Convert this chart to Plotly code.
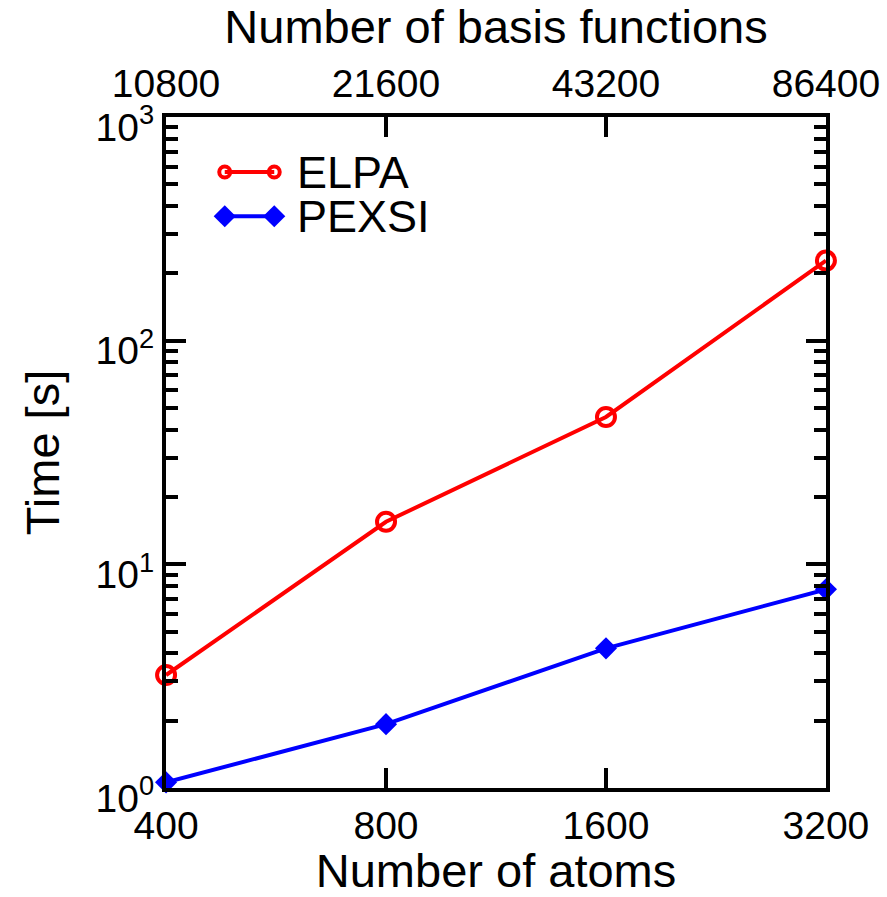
import plotly.graph_objects as go
import numpy as np

atoms = [400, 800, 1600, 3200]
basis = [10800, 21600, 43200, 86400]
elpa = [3.2, 15.5, 45.6, 228]
pexsi = [1.06, 1.93, 4.21, 7.73]
y_tickvals = [1, 10, 100, 1000]
y_ticktext = ["10<sup>0</sup>", "10<sup>1</sup>", "10<sup>2</sup>", "10<sup>3</sup>"]
series_names = ["ELPA", "PEXSI"]

FONT = "Liberation Sans, Arial, sans-serif"
RED = "#ff0000"
BLUE = "#0000ff"
EPS = 1e-4

fig = go.Figure()
fig.add_trace(go.Scatter(
    x=atoms, y=elpa, mode="lines+markers", name=series_names[0],
    line=dict(color=RED, width=4),
    marker=dict(symbol="circle-open", size=18, color=RED, line=dict(width=4, color=RED)),
    cliponaxis=False, showlegend=False,
))
fig.add_trace(go.Scatter(
    x=atoms, y=pexsi, mode="lines+markers", name=series_names[1],
    line=dict(color=BLUE, width=4),
    marker=dict(symbol="diamond", size=17, color=BLUE),
    cliponaxis=False, showlegend=False,
))
# invisible trace to activate top axis
fig.add_trace(go.Scatter(x=basis, y=[None]*len(basis), xaxis="x2", showlegend=False,
                         hoverinfo="skip", mode="markers"))

# custom legend (key samples with a marker at each end), drawn in plot-fraction coords
leg_x = [0.089, 0.164]
leg_rows = [0.918, 0.852]
leg_styles = [
    dict(line=dict(color=RED, width=4),
         marker=dict(symbol="circle-open", size=11, color=RED, line=dict(width=4, color=RED))),
    dict(line=dict(color=BLUE, width=4),
         marker=dict(symbol="diamond", size=17, color=BLUE)),
]
for name, yr, st in zip(series_names, leg_rows, leg_styles):
    fig.add_trace(go.Scatter(x=leg_x, y=[yr, yr], xaxis="x3", yaxis="y3", mode="lines+markers",
                             showlegend=False, hoverinfo="skip", cliponaxis=False, **st))
    fig.add_annotation(x=0.196, y=yr, xref="x3", yref="y3", text=name, showarrow=False,
                       xanchor="left", yanchor="middle", font=dict(size=45, family=FONT, color="black"))

fig.update_layout(
    width=887, height=897,
    margin=dict(l=166, r=61, t=117, b=109, autoexpand=False),
    paper_bgcolor="white", plot_bgcolor="white",
    font=dict(family=FONT, color="black", size=39),
    showlegend=False,
    xaxis=dict(
        type="log", range=[np.log10(400) - EPS, np.log10(3200) + EPS],
        tickvals=atoms, ticktext=[str(a) for a in atoms],
        ticks="inside", ticklen=20, tickwidth=4, tickcolor="black",
        showline=True, linewidth=4, linecolor="black",
        showgrid=False, zeroline=False, automargin=False,
        title=dict(text="Number of atoms", font=dict(size=47, family=FONT), standoff=10),
        tickfont=dict(size=39, family=FONT),
    ),
    xaxis2=dict(
        type="log", range=[np.log10(10800) - EPS, np.log10(86400) + EPS],
        overlaying="x", side="top", anchor="y",
        tickvals=basis, ticktext=[str(b) for b in basis],
        ticks="inside", ticklen=20, tickwidth=4, tickcolor="black",
        showline=True, linewidth=4, linecolor="black",
        showgrid=False, zeroline=False, automargin=False,
        title=dict(text="Number of basis functions", font=dict(size=47, family=FONT), standoff=8),
        tickfont=dict(size=39, family=FONT),
    ),
    xaxis3=dict(range=[0, 1], domain=[0, 1], anchor="y3", overlaying="x", visible=False,
                fixedrange=True),
    yaxis3=dict(range=[0, 1], domain=[0, 1], anchor="x3", overlaying="y", visible=False,
                fixedrange=True),
    yaxis=dict(
        type="log", range=[0, 3],
        tickvals=y_tickvals, ticktext=y_ticktext,
        ticks="inside", ticklen=20, tickwidth=4, tickcolor="black",
        minor=dict(ticks="inside", ticklen=12, tickwidth=4, tickcolor="black", dtick="D1"),
        showline=True, linewidth=4, linecolor="black", mirror="ticks",
        showgrid=False, zeroline=False, automargin=False,
        ticklabelshift=10,
        title=dict(text="Time [s]", font=dict(size=47, family=FONT), standoff=22),
        tickfont=dict(size=39, family=FONT),
    ),
)
fig.write_html("out.html")
